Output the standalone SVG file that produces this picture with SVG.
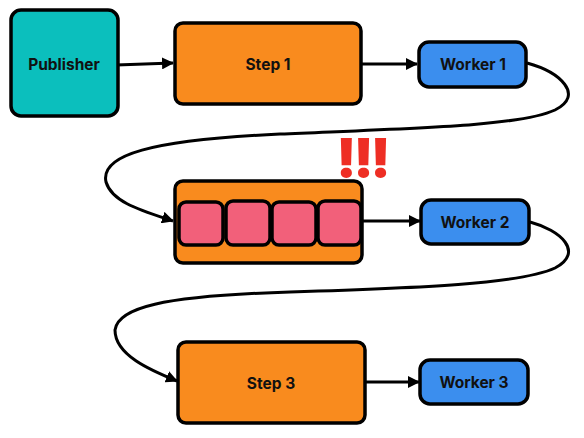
<svg xmlns="http://www.w3.org/2000/svg" width="584" height="438" viewBox="0 0 584 438">
<defs>
<marker id="ah" markerWidth="12" markerHeight="12" refX="11" refY="6" orient="auto" markerUnits="userSpaceOnUse" viewBox="0 0 12 12">
<path d="M0,0 L12,6 L0,12 Z" fill="#000"/>
</marker>
<style>
.box{stroke:#000;stroke-width:3.5}
.pub{fill:#0BBFBD}
.step{fill:#F98B1E}
.wk{fill:#3B8EEE}
.cell{fill:#F2607A;stroke:#000;stroke-width:3.5}
.lbl{font-family:"Inter","Open Sans","Liberation Sans",sans-serif;font-weight:bold;font-size:15.5px;fill:#111;text-anchor:middle;dominant-baseline:central}
.con{fill:none;stroke:#000;stroke-width:3;marker-end:url(#ah)}
</style>
</defs>
<rect width="584" height="438" fill="#fff"/>
<g id="connectors">
<path class="con" d="M116,65 L173,63"/>
<path class="con" d="M361,64 L417,64"/>
<path class="con" d="M527,63 C560,72 585,95 555,110 C520,126 420,128 280,134 C150,140 100,155 106,182 C112,202 140,210 173,221"/>
<path class="con" d="M362,221 L420,221"/>
<path class="con" d="M530,222 C560,230 585,252 555,268 C520,284 420,288 290,292 C160,296 118,308 115,330 C115,355 150,370 177,381"/>
<path class="con" d="M362,382 L419,382"/>
</g>
<g id="publisher">
<rect class="box pub" x="11" y="10" width="107" height="106" rx="10"/>
<text class="lbl" x="64" y="64">Publisher</text>
</g>
<g id="step1">
<rect class="box step" x="175" y="23" width="186" height="81" rx="8"/>
<text class="lbl" x="268" y="64">Step 1</text>
</g>
<g id="worker1">
<rect class="box wk" x="419" y="42" width="107" height="45" rx="10"/>
<text class="lbl" x="473" y="64">Worker 1</text>
</g>
<g id="queue">
<rect class="box step" x="175" y="181" width="187" height="82" rx="8"/>
<rect class="cell" x="179" y="202" width="44" height="43" rx="7"/>
<rect class="cell" x="226" y="201" width="44" height="44" rx="7"/>
<rect class="cell" x="272" y="202" width="44" height="43" rx="7"/>
<rect class="cell" x="318" y="201" width="43" height="44" rx="7"/>
</g>
<g id="alert">
<text x="362" y="177" font-family="Inter,'Open Sans','Liberation Sans',sans-serif" font-weight="900" font-size="53" fill="#EE2E24" text-anchor="middle" letter-spacing="-3">!!!</text>
</g>
<g id="worker2">
<rect class="box wk" x="421" y="200" width="108" height="44" rx="10"/>
<text class="lbl" x="475" y="222">Worker 2</text>
</g>
<g id="step3">
<rect class="box step" x="178" y="342" width="187" height="81" rx="8"/>
<text class="lbl" x="271" y="383">Step 3</text>
</g>
<g id="worker3">
<rect class="box wk" x="420" y="360" width="108" height="44" rx="10"/>
<text class="lbl" x="474" y="382">Worker 3</text>
</g>
</svg>
